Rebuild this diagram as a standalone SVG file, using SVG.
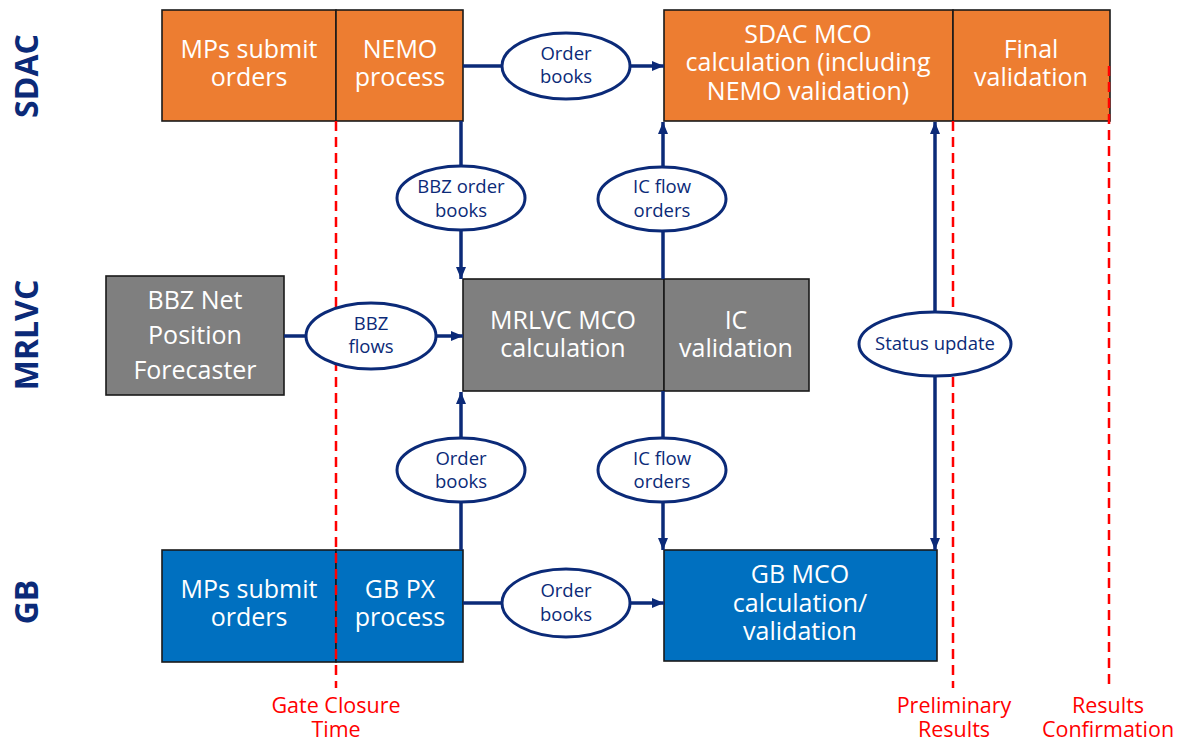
<svg xmlns="http://www.w3.org/2000/svg" width="1185" height="744" viewBox="0 0 1185 744">
<defs>
<marker id="arr" viewBox="0 0 12 10" refX="12" refY="5" markerWidth="12" markerHeight="10" markerUnits="userSpaceOnUse" orient="auto">
<path d="M0,0 L12,5 L0,10 z" fill="#0B2A78"/>
</marker>
<style>
.box{stroke:#1a1a1a;stroke-width:1.6}
.or{fill:#ED7D31}.gr{fill:#7F7F7F}.bl{fill:#0070C0}
.bt{font-family:"Open Sans",sans-serif;font-size:25px;fill:#fff;text-anchor:middle}
.el{fill:#fff;stroke:#0B2A78;stroke-width:3}
.et{font-family:"Open Sans",sans-serif;font-size:18.5px;fill:#0B2A78;text-anchor:middle}
.cn{stroke:#0B2A78;stroke-width:3.5;fill:none}
.red{stroke:#FF0000;stroke-width:2.5;stroke-dasharray:10 6;fill:none}
.rt{font-family:"Open Sans",sans-serif;font-size:21.5px;fill:#FF0000;text-anchor:middle}
.lane{font-family:"Open Sans",sans-serif;font-size:32px;font-weight:bold;fill:#0B2A78;text-anchor:middle}
</style>
</defs>
<rect width="1185" height="744" fill="#fff"/>

<g id="lane-labels">
<text class="lane" transform="translate(38,76) rotate(-90)">SDAC</text>
<text class="lane" transform="translate(38,335) rotate(-90)">MRLVC</text>
<text class="lane" transform="translate(38,602) rotate(-90)">GB</text>
</g>

<g id="sdac-mps">
<rect class="box or" x="162" y="10" width="174" height="111"/>
<text class="bt" x="249" y="58">MPs submit</text>
<text class="bt" x="249" y="86">orders</text>
</g>
<g id="sdac-nemo">
<rect class="box or" x="336" y="10" width="127" height="111"/>
<text class="bt" x="400" y="58">NEMO</text>
<text class="bt" x="400" y="86">process</text>
</g>
<g id="sdac-mco">
<rect class="box or" x="664" y="10" width="289" height="111"/>
<text class="bt" x="808" y="43">SDAC MCO</text>
<text class="bt" x="808" y="71">calculation (including</text>
<text class="bt" x="808" y="100">NEMO validation)</text>
</g>
<g id="sdac-final">
<rect class="box or" x="953" y="10" width="157" height="111"/>
<text class="bt" x="1031" y="58">Final</text>
<text class="bt" x="1031" y="86">validation</text>
</g>

<g id="bbz-net">
<rect class="box gr" x="106" y="276" width="178" height="119"/>
<text class="bt" x="195" y="309">BBZ Net</text>
<text class="bt" x="195" y="344">Position</text>
<text class="bt" x="195" y="379">Forecaster</text>
</g>
<g id="mrlvc-mco">
<rect class="box gr" x="463" y="279" width="201" height="112"/>
<text class="bt" x="563" y="329">MRLVC MCO</text>
<text class="bt" x="563" y="357">calculation</text>
</g>
<g id="ic-validation">
<rect class="box gr" x="664" y="279" width="145" height="112"/>
<text class="bt" x="736" y="329">IC</text>
<text class="bt" x="736" y="357">validation</text>
</g>

<g id="gb-mps">
<rect class="box bl" x="162" y="550" width="174" height="112"/>
<text class="bt" x="249" y="598">MPs submit</text>
<text class="bt" x="249" y="626">orders</text>
</g>
<g id="gb-px">
<rect class="box bl" x="336" y="550" width="127" height="112"/>
<text class="bt" x="400" y="598">GB PX</text>
<text class="bt" x="400" y="626">process</text>
</g>
<g id="gb-mco">
<rect class="box bl" x="664" y="550" width="273" height="111"/>
<text class="bt" x="800" y="583">GB MCO</text>
<text class="bt" x="800" y="612">calculation/</text>
<text class="bt" x="800" y="640">validation</text>
</g>

<g id="timelines">
<line class="red" x1="336" y1="121" x2="336" y2="688"/>
<line class="red" x1="953" y1="121" x2="953" y2="688"/>
<line class="red" x1="1109" y1="66" x2="1109" y2="688"/>
<text class="rt" x="336" y="713">Gate Closure</text>
<text class="rt" x="336" y="737">Time</text>
<text class="rt" x="954" y="713">Preliminary</text>
<text class="rt" x="954" y="737">Results</text>
<text class="rt" x="1108" y="713">Results</text>
<text class="rt" x="1108" y="737">Confirmation</text>
</g>

<g id="connectors">
<line class="cn" x1="463" y1="66" x2="502" y2="66"/>
<line class="cn" x1="630" y1="66" x2="664" y2="66" marker-end="url(#arr)"/>
<line class="cn" x1="461" y1="121" x2="461" y2="166"/>
<line class="cn" x1="461" y1="230" x2="461" y2="279" marker-end="url(#arr)"/>
<line class="cn" x1="663" y1="279" x2="663" y2="232"/>
<line class="cn" x1="663" y1="167" x2="663" y2="122" marker-end="url(#arr)"/>
<line class="cn" x1="284" y1="336" x2="306" y2="336"/>
<line class="cn" x1="436" y1="336" x2="463" y2="336" marker-end="url(#arr)"/>
<line class="cn" x1="461" y1="550" x2="461" y2="503"/>
<line class="cn" x1="461" y1="438" x2="461" y2="392" marker-end="url(#arr)"/>
<line class="cn" x1="663" y1="391" x2="663" y2="438"/>
<line class="cn" x1="663" y1="503" x2="663" y2="550" marker-end="url(#arr)"/>
<line class="cn" x1="935" y1="312" x2="935" y2="122" marker-end="url(#arr)"/>
<line class="cn" x1="935" y1="377" x2="935" y2="550" marker-end="url(#arr)"/>
<line class="cn" x1="463" y1="603" x2="502" y2="603"/>
<line class="cn" x1="630" y1="603" x2="664" y2="603" marker-end="url(#arr)"/>
</g>

<g id="el-order-books-sdac">
<ellipse class="el" cx="566" cy="66" rx="64" ry="33"/>
<text class="et" x="566" y="60">Order</text>
<text class="et" x="566" y="83">books</text>
</g>
<g id="el-bbz-order-books">
<ellipse class="el" cx="461" cy="198" rx="64" ry="32"/>
<text class="et" x="461" y="193">BBZ order</text>
<text class="et" x="461" y="217">books</text>
</g>
<g id="el-ic-flow-up">
<ellipse class="el" cx="662" cy="199" rx="64" ry="32"/>
<text class="et" x="662" y="193">IC flow</text>
<text class="et" x="662" y="217">orders</text>
</g>
<g id="el-bbz-flows">
<ellipse class="el" cx="371" cy="336" rx="65" ry="33"/>
<text class="et" x="371" y="330">BBZ</text>
<text class="et" x="371" y="353">flows</text>
</g>
<g id="el-order-books-mid">
<ellipse class="el" cx="461" cy="470" rx="64" ry="32"/>
<text class="et" x="461" y="465">Order</text>
<text class="et" x="461" y="488">books</text>
</g>
<g id="el-ic-flow-down">
<ellipse class="el" cx="662" cy="470" rx="64" ry="32"/>
<text class="et" x="662" y="465">IC flow</text>
<text class="et" x="662" y="488">orders</text>
</g>
<g id="el-status-update">
<ellipse class="el" cx="935" cy="344" rx="76" ry="32"/>
<text class="et" x="935" y="350">Status update</text>
</g>
<g id="el-order-books-gb">
<ellipse class="el" cx="566" cy="603" rx="64" ry="34"/>
<text class="et" x="566" y="597">Order</text>
<text class="et" x="566" y="621">books</text>
</g>
</svg>
